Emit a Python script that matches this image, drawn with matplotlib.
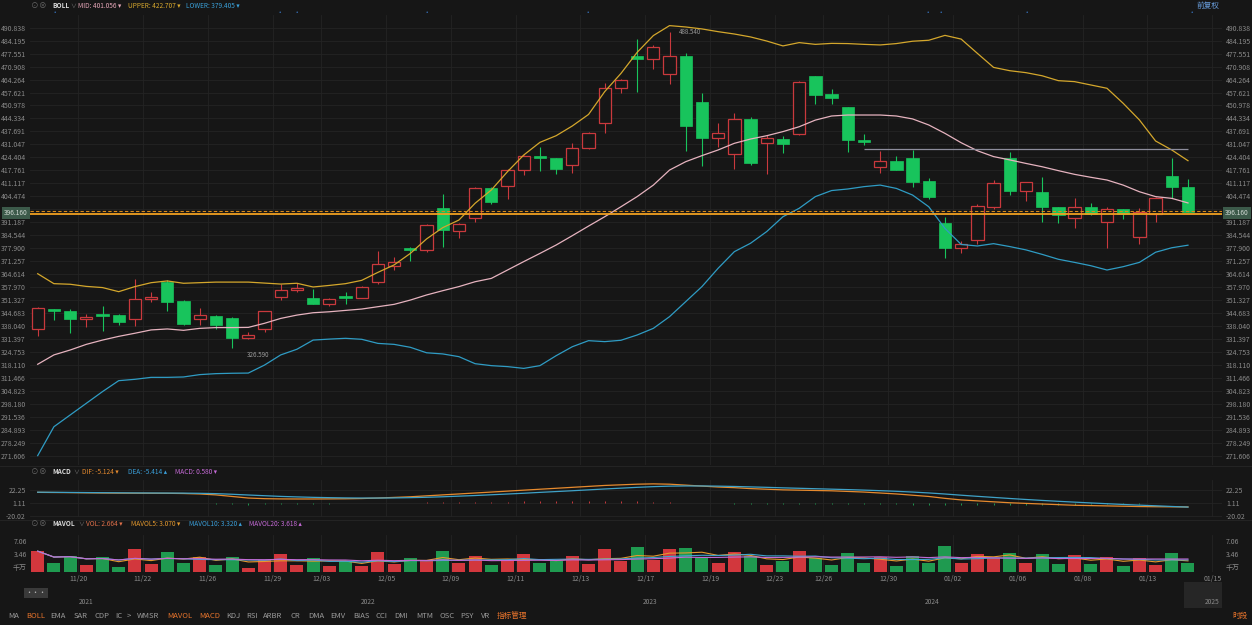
import numpy as np
import pandas as pd
import matplotlib
matplotlib.use('Agg')
import matplotlib.pyplot as plt
from matplotlib.patches import Rectangle

plt.rcParams['font.family'] = ['Noto Sans CJK SC', 'DejaVu Sans']

# candle data
opens = [336.3, 346.7, 345.7, 341.4, 344.3, 343.8, 341.4, 351.7, 360.7, 350.8,
         341.4, 343.3, 342.3, 332.0, 336.5, 352.9, 356.3, 352.2, 349.5, 353.4,
         352.5, 360.4, 368.9, 377.8, 376.8, 398.3, 386.9, 393.2, 408.5, 409.9,
         417.9, 425.3, 423.9, 420.5, 429.0, 441.8, 459.8, 476.5, 474.6, 466.9,
         476.2, 452.6, 434.2, 426.0, 443.9, 431.6, 433.8, 436.2, 466.1, 456.7,
         450.2, 433.3, 419.6, 422.5, 424.2, 412.3, 390.6, 377.8, 381.9, 399.1,
         423.9, 407.2, 406.5, 399.0, 393.2, 399.1, 391.5, 398.0, 383.8, 395.4,
         414.7, 409.4]
highs = [347.9, 346.9, 346.7, 344.0, 348.4, 344.0, 361.9, 355.3, 361.6, 351.3,
         347.1, 343.6, 342.8, 334.8, 345.9, 359.4, 359.9, 357.0, 352.5, 355.3,
         358.7, 376.4, 373.5, 378.3, 390.1, 405.5, 390.6, 409.4, 409.4, 418.3,
         425.6, 429.9, 424.0, 431.6, 437.6, 462.3, 464.4, 485.0, 482.0, 488.54,
         477.7, 457.2, 441.8, 447.3, 445.3, 435.9, 435.5, 463.3, 466.3, 459.4,
         450.4, 436.2, 427.7, 425.3, 428.2, 413.7, 393.7, 381.6, 400.3, 412.8,
         427.0, 412.0, 414.5, 399.1, 403.4, 400.9, 399.1, 398.2, 398.3, 404.3,
         423.9, 413.1]
lows = [333.1, 341.1, 334.3, 337.7, 335.5, 338.5, 338.2, 350.5, 345.7, 338.5,
        338.5, 336.5, 326.59, 331.4, 334.8, 351.3, 355.6, 349.3, 348.4, 349.5,
        352.2, 359.7, 366.7, 371.3, 375.8, 378.3, 382.9, 391.5, 400.3, 402.9,
        415.4, 417.4, 415.7, 416.2, 428.8, 436.7, 457.2, 458.1, 469.7, 461.8,
        427.7, 420.2, 429.9, 418.4, 420.5, 415.7, 426.5, 435.9, 451.6, 451.6,
        427.3, 430.7, 416.2, 417.7, 409.4, 403.1, 373.0, 375.2, 379.8, 398.0,
        405.1, 402.1, 391.5, 390.6, 388.0, 395.0, 377.8, 392.8, 379.8, 391.5,
        403.8, 396.6]
closes = [347.1, 345.9, 341.4, 342.8, 343.3, 340.2, 351.8, 353.0, 350.5, 339.0,
          343.6, 338.5, 332.0, 333.4, 345.7, 356.5, 357.7, 349.5, 351.8, 352.5,
          358.2, 370.0, 370.6, 376.8, 389.8, 387.2, 390.1, 408.5, 401.4, 417.9,
          425.3, 423.9, 418.4, 429.0, 437.1, 459.8, 463.9, 474.8, 480.8, 476.2,
          440.6, 434.5, 436.7, 443.9, 421.3, 434.2, 431.4, 463.2, 456.3, 454.6,
          433.1, 432.3, 422.5, 417.9, 412.0, 404.3, 378.1, 379.8, 399.5, 411.1,
          407.2, 411.6, 399.0, 394.9, 399.1, 395.4, 397.8, 395.4, 396.6, 403.8,
          409.4, 396.16]

boll_upper = [364.8, 359.7, 359.4, 358.3, 357.7, 355.6, 358.2, 360.2, 361.1, 359.9,
              360.2, 360.5, 360.5, 360.5, 360.0, 359.5, 359.9, 358.0, 358.8, 359.7,
              361.4, 365.5, 369.3, 375.2, 382.6, 388.4, 392.3, 400.9, 407.7, 417.1,
              425.6, 432.1, 435.5, 440.5, 446.4, 458.1, 467.4, 478.2, 486.8, 491.9,
              491.2, 490.2, 488.8, 487.6, 486.1, 484.0, 481.5, 483.2, 482.3, 482.8,
              482.7, 482.3, 482.0, 482.7, 483.9, 484.4, 486.9, 485.0, 477.7, 470.5,
              468.8, 467.8, 466.2, 463.7, 463.2, 461.5, 459.8, 452.1, 443.6, 432.8,
              428.2, 422.707]
boll_mid = [318.4, 323.2, 325.7, 328.6, 330.8, 332.7, 334.3, 336.0, 336.5, 335.8,
            336.8, 337.2, 337.2, 337.3, 339.4, 341.9, 343.6, 344.8, 345.3, 346.0,
            346.7, 347.9, 349.1, 351.3, 353.9, 356.1, 358.2, 360.7, 362.4, 366.7,
            371.0, 375.2, 379.5, 384.3, 389.2, 394.0, 399.1, 404.3, 410.2, 417.9,
            422.2, 425.3, 428.2, 431.6, 433.8, 435.5, 437.6, 440.1, 443.5, 445.6,
            446.1, 446.1, 446.1, 445.6, 444.1, 441.0, 436.7, 431.9, 427.8, 424.8,
            423.1, 421.3, 419.6, 417.6, 415.7, 414.2, 412.8, 410.2, 406.8, 404.3,
            403.4, 401.056]
boll_lower = [271.6, 286.4, 292.4, 298.4, 304.4, 310.0, 310.7, 311.7, 311.7, 311.9,
              313.1, 313.6, 313.8, 313.9, 318.0, 323.2, 326.1, 330.8, 331.3, 331.7,
              331.2, 329.1, 328.6, 327.1, 324.3, 323.7, 322.3, 318.7, 317.7, 317.2,
              316.3, 317.7, 322.8, 327.4, 330.5, 330.0, 330.7, 333.4, 336.8, 342.8,
              350.5, 358.2, 367.6, 376.1, 380.4, 386.4, 394.0, 398.3, 404.3, 407.4,
              408.2, 409.4, 410.2, 408.5, 405.1, 399.1, 388.0, 379.8, 379.0, 380.2,
              378.7, 377.0, 374.7, 372.2, 370.6, 368.9, 366.7, 368.4, 370.6, 375.8,
              378.1, 379.405]

# volume in 千万
volumes = [5.86, 2.55, 4.53, 1.90, 4.08, 1.42, 6.43, 2.18, 5.50, 2.66,
           4.08, 1.90, 4.25, 1.25, 3.31, 5.01, 1.90, 3.80, 1.61, 3.03,
           1.70, 5.58, 2.18, 3.80, 3.00, 5.80, 2.50, 4.50, 2.00, 3.50,
           5.00, 2.50, 3.00, 4.50, 2.20, 6.50, 3.00, 7.00, 3.50, 6.50,
           6.80, 4.00, 2.50, 5.50, 4.50, 2.00, 3.00, 6.00, 4.00, 1.90,
           5.38, 2.55, 4.08, 1.61, 4.45, 2.55, 7.28, 2.66, 5.01, 3.80,
           5.21, 2.55, 4.93, 2.18, 4.73, 2.18, 4.25, 1.70, 3.97, 2.10,
           5.21, 2.664]

dif = [18.0, 17.8, 17.6, 17.3, 17.0, 16.8, 16.7, 16.6, 16.5, 16.2,
       15.5, 14.0, 11.5, 9.0, 8.0, 7.6, 7.5, 7.5, 7.6, 7.8,
       8.2, 9.0, 10.0, 11.0, 12.5, 14.0, 15.5, 17.0, 18.5, 20.0,
       21.5, 23.0, 24.5, 26.0, 27.5, 29.0, 30.0, 31.0, 31.5, 31.0,
       29.5, 28.0, 26.5, 25.5, 24.0, 23.0, 22.0, 21.5, 21.0, 20.5,
       19.5, 18.5, 17.0, 15.5, 13.5, 11.5, 8.5, 6.0, 4.5, 3.0,
       1.5, 0.5, -0.5, -1.5, -2.5, -3.0, -3.5, -4.0, -4.5, -4.8,
       -5.0, -5.124]
dea = [18.3, 18.1, 17.9, 17.7, 17.5, 17.3, 17.1, 17.0, 16.9, 16.8,
       16.5, 16.0, 15.0, 13.8, 12.7, 11.6, 10.8, 10.1, 9.6, 9.2,
       9.0, 9.0, 9.2, 9.6, 10.2, 11.0, 12.0, 13.0, 14.2, 15.4,
       16.6, 18.0, 19.3, 20.6, 22.0, 23.4, 24.7, 26.0, 27.1, 27.9,
       28.2, 28.2, 27.9, 27.4, 26.7, 26.0, 25.2, 24.5, 23.8, 23.1,
       22.4, 21.6, 20.7, 19.7, 18.5, 17.1, 15.4, 13.5, 11.7, 10.0,
       8.3, 6.7, 5.2, 3.8, 2.5, 1.2, 0.0, -1.2, -2.3, -3.3,
       -4.4, -5.414]

date_pos = [2.5, 6.5, 10.5, 14.5, 17.5, 21.5, 25.5, 29.5, 33.5, 37.5,
            41.5, 45.5, 48.5, 52.5, 56.5, 60.5, 64.5, 68.5, 72.5]
date_labels = ['11/20', '11/22', '11/26', '11/29', '12/03', '12/05', '12/09',
               '12/11', '12/13', '12/17', '12/19', '12/23', '12/26', '12/30',
               '01/02', '01/06', '01/08', '01/13', '01/15']
year_labels = ['2021', '2022', '2023', '2024', '2025']
year_px = [86, 368, 650, 932, 1212]
indicators = ['MA', 'BOLL', 'EMA', 'SAR', 'CDP', 'IC', '>', 'WMSR', 'MAVOL', 'MACD',
              'KDJ', 'RSI', 'ARBR', 'CR', 'DMA', 'EMV', 'BIAS', 'CCI', 'DMI', 'MTM',
              'OSC', 'PSY', 'VR', '指标管理']
indicator_px = [14, 36, 58, 81, 102, 119, 129, 148, 180, 210,
                233, 252, 273, 295, 316, 338, 361, 381, 401, 425,
                447, 467, 486, 512]
active = ['BOLL', 'MAVOL', 'MACD', '指标管理']
event_px = [55, 280, 297, 427, 588, 928, 941, 1027, 1192]

W, H = 1252, 625
BG = '#161616'
GRID = '#242424'
LBL = '#8a8a8a'
RED = '#c9393d'
GREEN = '#18c45c'
VRED = '#d2373d'
VGREEN = '#1f9a50'

fig = plt.figure(figsize=(W / 100, H / 100), dpi=100)
fig.patch.set_facecolor(BG)


def rect(l, t, r, b):
    return [l / W, 1 - b / H, (r - l) / W, (b - t) / H]


def ftext(x, y, s, **kw):
    kw.setdefault('va', 'center')
    return fig.text(x / W, 1 - y / H, s, **kw)


n = len(closes)
xs = np.arange(n)
XL = (-0.475, 73.1)
HF = 4.7  # header font size

# ---------------- main BOLL chart
ax = fig.add_axes(rect(30, 15, 1222, 465))
ax.set_facecolor(BG)
ax.set_xlim(*XL)
ax.set_ylim(266.8, 497.34)
yt = np.linspace(490.838, 271.606, 34)
ax.set_yticks(yt)
# the tick under the current-price box is hidden by the box
ax.set_yticklabels(['' if abs(v - closes[-1]) < 3 else '%.3f' % v for v in yt])
ax.tick_params(axis='y', length=0, labelsize=5, colors=LBL, labelleft=True,
               labelright=True, pad=3)
ax.set_xticks([])
for v in yt:
    ax.axhline(v, color=GRID, lw=0.6, zorder=0)
for p in date_pos:
    ax.axvline(p, color=GRID, lw=0.6, zorder=0)
for s in ax.spines.values():
    s.set_visible(False)

bw = 0.76
for i in range(n):
    o, h, l, c = opens[i], highs[i], lows[i], closes[i]
    up = c >= o
    col = RED if up else GREEN
    ax.vlines(i, l, h, color=col, lw=0.8, zorder=2)
    lo, hi = min(o, c), max(o, c)
    if hi - lo < 1.0:
        mid = (hi + lo) / 2
        lo, hi = mid - 0.5, mid + 0.5
    if up:
        ax.add_patch(Rectangle((i - bw / 2, lo), bw, hi - lo, facecolor=BG,
                               edgecolor=col, lw=0.9, zorder=3))
    else:
        ax.add_patch(Rectangle((i - bw / 2, lo), bw, hi - lo, facecolor=col,
                               edgecolor=col, lw=0.5, zorder=3))

ax.plot(xs, boll_upper, color='#d4a72c', lw=0.9, zorder=4)
ax.plot(xs, boll_mid, color='#e6b3bf', lw=0.9, zorder=4)
ax.plot(xs, boll_lower, color='#2f9cc4', lw=0.9, zorder=4)

ax.hlines(428.7, 51, 71, color='#8d8d9c', lw=0.9, zorder=4)
ax.axhline(396.8, color='#d88a1c', lw=0.8, ls=(0, (3, 2)), zorder=5)
ax.axhline(395.4, color='#f0a020', lw=1.3, zorder=5)

imax = int(np.argmax(highs))
imin = int(np.argmin(lows))
ax.text(imax + 0.6, highs[imax] + 0.3, '%.3f' % highs[imax], fontsize=4.5,
        color='#9a9a9a', va='center')
ax.text(imin + 0.9, lows[imin] - 3.5, '%.3f' % lows[imin], fontsize=4.5,
        color='#9a9a9a', va='center')

# current price boxes
for xx in [16, 1237]:
    ftext(xx, 213, '%.3f' % closes[-1], fontsize=4.8, color='#cfd8d2', ha='center',
          bbox=dict(boxstyle='square,pad=0.25', fc='#3c5a4a', ec='none'))

# header
ftext(35, 6, '⊙', fontsize=5.5, color='#666666', ha='center')
ftext(43, 6, '⊗', fontsize=5.5, color='#666666', ha='center')
ftext(52, 6, 'BOLL', fontsize=HF, color='#d8d8d8', weight='bold')
ftext(70, 6, '∨', fontsize=4.2, color='#777777')
ftext(78, 6, 'MID: %.3f ▾' % boll_mid[-1], fontsize=HF, color='#e6a6b8')
ftext(128, 6, 'UPPER: %.3f ▾' % boll_upper[-1], fontsize=HF, color='#d8a82e')
ftext(186, 6, 'LOWER: %.3f ▾' % boll_lower[-1], fontsize=HF, color='#3aa0d8')
ftext(1208, 6, '前复权', fontsize=5.5, color='#6aa0e0', ha='center')
for xx in event_px:
    ftext(xx, 13, '•', fontsize=4.5, color='#3c7fd4', ha='center')

# ---------------- MACD pane
axm = fig.add_axes(rect(30, 480, 1222, 517))
axm.set_facecolor(BG)
axm.set_xlim(*XL)
axm.set_ylim(-21.13, 37.66)
for v in [22.25, 1.11, -20.02]:
    axm.axhline(v, color=GRID, lw=0.6, zorder=0)
for p in date_pos:
    axm.axvline(p, color=GRID, lw=0.6, zorder=0)
hist = 2 * (np.array(dif) - np.array(dea))
hcol = [RED if v >= 0 else VGREEN for v in hist]
axm.vlines(xs, 1.11, 1.11 + hist * 0.25, colors=hcol, lw=0.7, zorder=2)
axm.plot(xs, dif, color='#e68a2e', lw=0.9, zorder=3)
axm.plot(xs, dea, color='#3fa2c8', lw=0.9, zorder=3)
axm.set_yticks([22.25, 1.11, -20.02])
axm.set_yticklabels(['22.25', '1.11', '-20.02'])
axm.tick_params(axis='y', length=0, labelsize=5, colors=LBL, labelleft=True,
                labelright=True, pad=3)
axm.set_xticks([])
for s in axm.spines.values():
    s.set_visible(False)

ftext(35, 472, '⊙', fontsize=5.5, color='#666666', ha='center')
ftext(43, 472, '⊗', fontsize=5.5, color='#666666', ha='center')
ftext(52, 472, 'MACD', fontsize=HF, color='#d8d8d8', weight='bold')
ftext(73, 472, '∨', fontsize=4.2, color='#777777')
ftext(82, 472, 'DIF: %.3f ▾' % dif[-1], fontsize=HF, color='#e68a2e')
ftext(128, 472, 'DEA: %.3f ▴' % dea[-1], fontsize=HF, color='#3a9ed8')
ftext(175, 472, 'MACD: %.3f ▾' % (2 * (dif[-1] - dea[-1])), fontsize=HF,
      color='#c66bd8')

# ---------------- volume pane
axv = fig.add_axes(rect(30, 535, 1222, 572))
axv.set_facecolor(BG)
axv.set_xlim(*XL)
axv.set_ylim(0, 10.4)
vcol = [VRED if closes[i] >= opens[i] else VGREEN for i in range(n)]
axv.bar(xs, volumes, width=0.8, color=vcol, zorder=2)
vol = pd.Series(volumes)
axv.plot(xs, vol.rolling(5, min_periods=1).mean(), color='#e69a2e', lw=0.8, zorder=3)
axv.plot(xs, vol.rolling(10, min_periods=1).mean(), color='#3fa6d0', lw=0.8, zorder=3)
axv.plot(xs, vol.rolling(20, min_periods=1).mean(), color='#c36bd6', lw=0.8, zorder=3)
for p in date_pos:
    axv.axvline(p, color=GRID, lw=0.6, zorder=0)
axv.set_xticks(date_pos)
axv.set_xticklabels(date_labels)
axv.tick_params(axis='x', length=0, labelsize=5, colors=LBL, pad=2)
axv.set_yticks([])
for s in axv.spines.values():
    s.set_visible(False)
for xx, ha in [(27, 'right'), (1226, 'left')]:
    ftext(xx, 541.7, '7.06', fontsize=5, color=LBL, ha=ha)
    ftext(xx, 554.7, '3.46', fontsize=5, color=LBL, ha=ha)
    ftext(xx, 567.7, '千万', fontsize=5, color=LBL, ha=ha)

ftext(35, 524, '⊙', fontsize=5.5, color='#666666', ha='center')
ftext(43, 524, '⊗', fontsize=5.5, color='#666666', ha='center')
ftext(52, 524, 'MAVOL', fontsize=HF, color='#d8d8d8', weight='bold')
ftext(78, 524, '∨', fontsize=4.2, color='#777777')
ftext(86, 524, 'VOL: %.3f ▾' % volumes[-1], fontsize=HF, color='#e0704a')
ftext(131, 524, 'MAVOL5: 3.070 ▾', fontsize=HF, color='#e69a2e')
ftext(189, 524, 'MAVOL10: 3.320 ▴', fontsize=HF, color='#3a9ed8')
ftext(249, 524, 'MAVOL20: 3.618 ▴', fontsize=HF, color='#c66bd8')

# separators
for yy in [466, 520]:
    fig.add_artist(plt.Line2D([0, 1], [1 - yy / H, 1 - yy / H], color='#262626', lw=0.6))

# ---------------- navigator
axn = fig.add_axes(rect(30, 582, 1222, 608))
axn.set_facecolor(BG)
axn.set_xlim(0, 1)
axn.set_ylim(0, 1)
axn.axis('off')
axn.add_patch(Rectangle((0.968, 0.0), 0.032, 1.0, facecolor='#262626', edgecolor='none'))
ftext(36, 593, '···', fontsize=5, color='#bbbbbb', ha='center',
      bbox=dict(boxstyle='square,pad=0.2', fc='#3a3a3a', ec='none'))
for lab, xx in zip(year_labels, year_px):
    ftext(xx, 602, lab, fontsize=4.8, color='#8a8a8a', ha='center')

# ---------------- bottom indicator bar
for lab, xx in zip(indicators, indicator_px):
    col = '#e8742c' if lab in active else '#9a9a9a'
    ftext(xx, 616, lab, fontsize=5.5, color=col, ha='center')
ftext(1240, 616, '时段', fontsize=5.5, color='#e8742c', ha='center')

fig.savefig('out.png', dpi=100, facecolor=BG)
